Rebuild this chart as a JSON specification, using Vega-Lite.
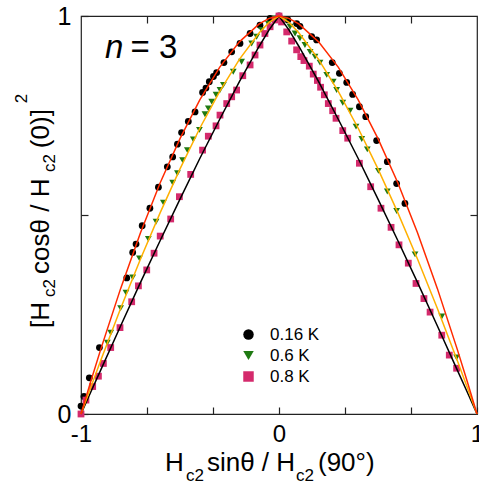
{
  "$schema": "https://vega.github.io/schema/vega-lite/v6.json",
  "width": 396,
  "height": 398,
  "autosize": {"type": "none"},
  "padding": {"left": 81, "top": 16, "right": 2, "bottom": 77},
  "config": {
    "view": {"stroke": "#222222", "strokeWidth": 1.2},
    "font": "Liberation Sans",
    "axis": {"domain": false, "grid": false, "tickColor": "#222222", "tickWidth": 1.2, "tickSize": -7, "labelFont": "Liberation Sans", "labelFontSize": 25, "labelColor": "#000000", "title": null}
  },
  "datasets": {
    "pts": [
      {"T": "0.16 K", "x": -1.0, "y": 0.02}, {"T": "0.16 K", "x": -0.985, "y": 0.044}, {"T": "0.16 K", "x": -0.958, "y": 0.091}, {"T": "0.16 K", "x": -0.907, "y": 0.167}, {"T": "0.16 K", "x": -0.769, "y": 0.342}, {"T": "0.16 K", "x": -0.739, "y": 0.406}, {"T": "0.16 K", "x": -0.722, "y": 0.427}, {"T": "0.16 K", "x": -0.691, "y": 0.473}, {"T": "0.16 K", "x": -0.652, "y": 0.517}, {"T": "0.16 K", "x": -0.609, "y": 0.57}, {"T": "0.16 K", "x": -0.564, "y": 0.621}, {"T": "0.16 K", "x": -0.537, "y": 0.646}, {"T": "0.16 K", "x": -0.513, "y": 0.678}, {"T": "0.16 K", "x": -0.492, "y": 0.707}, {"T": "0.16 K", "x": -0.458, "y": 0.735}, {"T": "0.16 K", "x": -0.424, "y": 0.759}, {"T": "0.16 K", "x": -0.386, "y": 0.808}, {"T": "0.16 K", "x": -0.369, "y": 0.819}, {"T": "0.16 K", "x": -0.352, "y": 0.835}, {"T": "0.16 K", "x": -0.331, "y": 0.848}, {"T": "0.16 K", "x": -0.315, "y": 0.858}, {"T": "0.16 K", "x": -0.278, "y": 0.883}, {"T": "0.16 K", "x": -0.239, "y": 0.91}, {"T": "0.16 K", "x": -0.197, "y": 0.931}, {"T": "0.16 K", "x": -0.146, "y": 0.956}, {"T": "0.16 K", "x": -0.096, "y": 0.977}, {"T": "0.16 K", "x": -0.045, "y": 0.994}, {"T": "0.16 K", "x": 0.0, "y": 1.0}, {"T": "0.16 K", "x": 0.045, "y": 0.99}, {"T": "0.16 K", "x": 0.089, "y": 0.981}, {"T": "0.16 K", "x": 0.106, "y": 0.974}, {"T": "0.16 K", "x": 0.165, "y": 0.948}, {"T": "0.16 K", "x": 0.19, "y": 0.94}, {"T": "0.16 K", "x": 0.269, "y": 0.883}, {"T": "0.16 K", "x": 0.305, "y": 0.856}, {"T": "0.16 K", "x": 0.342, "y": 0.833}, {"T": "0.16 K", "x": 0.372, "y": 0.803}, {"T": "0.16 K", "x": 0.406, "y": 0.772}, {"T": "0.16 K", "x": 0.438, "y": 0.747}, {"T": "0.16 K", "x": 0.493, "y": 0.687}, {"T": "0.16 K", "x": 0.547, "y": 0.634}, {"T": "0.16 K", "x": 0.594, "y": 0.579}, {"T": "0.16 K", "x": 0.636, "y": 0.529},
      {"T": "0.6 K", "x": -0.867, "y": 0.179}, {"T": "0.6 K", "x": -0.85, "y": 0.204}, {"T": "0.6 K", "x": -0.8, "y": 0.266}, {"T": "0.6 K", "x": -0.773, "y": 0.305}, {"T": "0.6 K", "x": -0.739, "y": 0.343}, {"T": "0.6 K", "x": -0.705, "y": 0.391}, {"T": "0.6 K", "x": -0.66, "y": 0.44}, {"T": "0.6 K", "x": -0.621, "y": 0.483}, {"T": "0.6 K", "x": -0.584, "y": 0.531}, {"T": "0.6 K", "x": -0.537, "y": 0.581}, {"T": "0.6 K", "x": -0.513, "y": 0.605}, {"T": "0.6 K", "x": -0.487, "y": 0.638}, {"T": "0.6 K", "x": -0.463, "y": 0.663}, {"T": "0.6 K", "x": -0.433, "y": 0.69}, {"T": "0.6 K", "x": -0.402, "y": 0.714}, {"T": "0.6 K", "x": -0.374, "y": 0.753}, {"T": "0.6 K", "x": -0.357, "y": 0.768}, {"T": "0.6 K", "x": -0.34, "y": 0.785}, {"T": "0.6 K", "x": -0.318, "y": 0.802}, {"T": "0.6 K", "x": -0.298, "y": 0.814}, {"T": "0.6 K", "x": -0.281, "y": 0.827}, {"T": "0.6 K", "x": -0.231, "y": 0.86}, {"T": "0.6 K", "x": -0.189, "y": 0.885}, {"T": "0.6 K", "x": -0.138, "y": 0.931}, {"T": "0.6 K", "x": -0.113, "y": 0.948}, {"T": "0.6 K", "x": -0.088, "y": 0.965}, {"T": "0.6 K", "x": -0.054, "y": 0.981}, {"T": "0.6 K", "x": -0.02, "y": 0.994}, {"T": "0.6 K", "x": 0.03, "y": 0.99}, {"T": "0.6 K", "x": 0.056, "y": 0.973}, {"T": "0.6 K", "x": 0.081, "y": 0.956}, {"T": "0.6 K", "x": 0.106, "y": 0.944}, {"T": "0.6 K", "x": 0.131, "y": 0.927}, {"T": "0.6 K", "x": 0.157, "y": 0.91}, {"T": "0.6 K", "x": 0.182, "y": 0.898}, {"T": "0.6 K", "x": 0.207, "y": 0.883}, {"T": "0.6 K", "x": 0.241, "y": 0.852}, {"T": "0.6 K", "x": 0.274, "y": 0.835}, {"T": "0.6 K", "x": 0.291, "y": 0.814}, {"T": "0.6 K", "x": 0.322, "y": 0.782}, {"T": "0.6 K", "x": 0.359, "y": 0.762}, {"T": "0.6 K", "x": 0.389, "y": 0.722}, {"T": "0.6 K", "x": 0.418, "y": 0.691}, {"T": "0.6 K", "x": 0.446, "y": 0.665}, {"T": "0.6 K", "x": 0.502, "y": 0.611}, {"T": "0.6 K", "x": 0.547, "y": 0.559}, {"T": "0.6 K", "x": 0.594, "y": 0.51}, {"T": "0.6 K", "x": 0.687, "y": 0.401}, {"T": "0.6 K", "x": 0.822, "y": 0.245}, {"T": "0.6 K", "x": 0.897, "y": 0.142},
      {"T": "0.8 K", "x": -1.0, "y": 0.0}, {"T": "0.8 K", "x": -0.975, "y": 0.035}, {"T": "0.8 K", "x": -0.941, "y": 0.069}, {"T": "0.8 K", "x": -0.912, "y": 0.095}, {"T": "0.8 K", "x": -0.887, "y": 0.127}, {"T": "0.8 K", "x": -0.85, "y": 0.167}, {"T": "0.8 K", "x": -0.803, "y": 0.217}, {"T": "0.8 K", "x": -0.744, "y": 0.282}, {"T": "0.8 K", "x": -0.71, "y": 0.322}, {"T": "0.8 K", "x": -0.668, "y": 0.362}, {"T": "0.8 K", "x": -0.631, "y": 0.404}, {"T": "0.8 K", "x": -0.6, "y": 0.447}, {"T": "0.8 K", "x": -0.547, "y": 0.49}, {"T": "0.8 K", "x": -0.503, "y": 0.546}, {"T": "0.8 K", "x": -0.446, "y": 0.602}, {"T": "0.8 K", "x": -0.386, "y": 0.663}, {"T": "0.8 K", "x": -0.357, "y": 0.698}, {"T": "0.8 K", "x": -0.318, "y": 0.724}, {"T": "0.8 K", "x": -0.298, "y": 0.751}, {"T": "0.8 K", "x": -0.264, "y": 0.78}, {"T": "0.8 K", "x": -0.239, "y": 0.797}, {"T": "0.8 K", "x": -0.214, "y": 0.814}, {"T": "0.8 K", "x": -0.183, "y": 0.85}, {"T": "0.8 K", "x": -0.146, "y": 0.877}, {"T": "0.8 K", "x": -0.121, "y": 0.902}, {"T": "0.8 K", "x": -0.096, "y": 0.927}, {"T": "0.8 K", "x": -0.071, "y": 0.956}, {"T": "0.8 K", "x": -0.045, "y": 0.973}, {"T": "0.8 K", "x": -0.02, "y": 0.99}, {"T": "0.8 K", "x": 0.0, "y": 1.0}, {"T": "0.8 K", "x": 0.013, "y": 0.985}, {"T": "0.8 K", "x": 0.039, "y": 0.96}, {"T": "0.8 K", "x": 0.064, "y": 0.937}, {"T": "0.8 K", "x": 0.089, "y": 0.915}, {"T": "0.8 K", "x": 0.11, "y": 0.898}, {"T": "0.8 K", "x": 0.126, "y": 0.888}, {"T": "0.8 K", "x": 0.153, "y": 0.874}, {"T": "0.8 K", "x": 0.173, "y": 0.854}, {"T": "0.8 K", "x": 0.194, "y": 0.838}, {"T": "0.8 K", "x": 0.21, "y": 0.821}, {"T": "0.8 K", "x": 0.229, "y": 0.802}, {"T": "0.8 K", "x": 0.249, "y": 0.78}, {"T": "0.8 K", "x": 0.271, "y": 0.762}, {"T": "0.8 K", "x": 0.288, "y": 0.743}, {"T": "0.8 K", "x": 0.322, "y": 0.712}, {"T": "0.8 K", "x": 0.347, "y": 0.693}, {"T": "0.8 K", "x": 0.406, "y": 0.63}, {"T": "0.8 K", "x": 0.463, "y": 0.571}, {"T": "0.8 K", "x": 0.515, "y": 0.517}, {"T": "0.8 K", "x": 0.566, "y": 0.469}, {"T": "0.8 K", "x": 0.606, "y": 0.425}, {"T": "0.8 K", "x": 0.653, "y": 0.379}, {"T": "0.8 K", "x": 0.692, "y": 0.328}, {"T": "0.8 K", "x": 0.732, "y": 0.29}, {"T": "0.8 K", "x": 0.763, "y": 0.256}, {"T": "0.8 K", "x": 0.822, "y": 0.198}, {"T": "0.8 K", "x": 0.86, "y": 0.148}, {"T": "0.8 K", "x": 0.897, "y": 0.115}
    ],
    "fits": [
      {"fit": "a", "x": -1.0, "y": 0.0}, {"fit": "a", "x": -0.95, "y": 0.083}, {"fit": "a", "x": -0.9, "y": 0.163}, {"fit": "a", "x": -0.8, "y": 0.315}, {"fit": "a", "x": -0.7, "y": 0.455}, {"fit": "a", "x": -0.6, "y": 0.581}, {"fit": "a", "x": -0.5, "y": 0.692}, {"fit": "a", "x": -0.4, "y": 0.789}, {"fit": "a", "x": -0.3, "y": 0.871}, {"fit": "a", "x": -0.2, "y": 0.935}, {"fit": "a", "x": -0.1, "y": 0.98}, {"fit": "a", "x": -0.05, "y": 0.994}, {"fit": "a", "x": 0.0, "y": 1.0}, {"fit": "a", "x": 0.05, "y": 0.994}, {"fit": "a", "x": 0.1, "y": 0.98}, {"fit": "a", "x": 0.2, "y": 0.935}, {"fit": "a", "x": 0.3, "y": 0.871}, {"fit": "a", "x": 0.4, "y": 0.789}, {"fit": "a", "x": 0.5, "y": 0.692}, {"fit": "a", "x": 0.6, "y": 0.581}, {"fit": "a", "x": 0.7, "y": 0.455}, {"fit": "a", "x": 0.8, "y": 0.315}, {"fit": "a", "x": 0.9, "y": 0.163}, {"fit": "a", "x": 0.95, "y": 0.083}, {"fit": "a", "x": 1.0, "y": 0.0},
      {"fit": "b", "x": -1.0, "y": 0.0}, {"fit": "b", "x": -0.95, "y": 0.068}, {"fit": "b", "x": -0.9, "y": 0.135}, {"fit": "b", "x": -0.8, "y": 0.265}, {"fit": "b", "x": -0.7, "y": 0.389}, {"fit": "b", "x": -0.6, "y": 0.506}, {"fit": "b", "x": -0.5, "y": 0.616}, {"fit": "b", "x": -0.4, "y": 0.718}, {"fit": "b", "x": -0.3, "y": 0.81}, {"fit": "b", "x": -0.2, "y": 0.891}, {"fit": "b", "x": -0.1, "y": 0.958}, {"fit": "b", "x": -0.05, "y": 0.984}, {"fit": "b", "x": 0.0, "y": 1.0}, {"fit": "b", "x": 0.05, "y": 0.984}, {"fit": "b", "x": 0.1, "y": 0.958}, {"fit": "b", "x": 0.2, "y": 0.891}, {"fit": "b", "x": 0.3, "y": 0.81}, {"fit": "b", "x": 0.4, "y": 0.718}, {"fit": "b", "x": 0.5, "y": 0.616}, {"fit": "b", "x": 0.6, "y": 0.506}, {"fit": "b", "x": 0.7, "y": 0.389}, {"fit": "b", "x": 0.8, "y": 0.265}, {"fit": "b", "x": 0.9, "y": 0.135}, {"fit": "b", "x": 0.95, "y": 0.068}, {"fit": "b", "x": 1.0, "y": 0.0},
      {"fit": "c", "x": -1.0, "y": 0.0}, {"fit": "c", "x": -0.95, "y": 0.056}, {"fit": "c", "x": -0.9, "y": 0.111}, {"fit": "c", "x": -0.8, "y": 0.221}, {"fit": "c", "x": -0.7, "y": 0.33}, {"fit": "c", "x": -0.6, "y": 0.436}, {"fit": "c", "x": -0.5, "y": 0.54}, {"fit": "c", "x": -0.4, "y": 0.642}, {"fit": "c", "x": -0.3, "y": 0.74}, {"fit": "c", "x": -0.2, "y": 0.835}, {"fit": "c", "x": -0.1, "y": 0.924}, {"fit": "c", "x": -0.05, "y": 0.965}, {"fit": "c", "x": 0.0, "y": 1.0}, {"fit": "c", "x": 0.05, "y": 0.965}, {"fit": "c", "x": 0.1, "y": 0.924}, {"fit": "c", "x": 0.2, "y": 0.835}, {"fit": "c", "x": 0.3, "y": 0.74}, {"fit": "c", "x": 0.4, "y": 0.642}, {"fit": "c", "x": 0.5, "y": 0.54}, {"fit": "c", "x": 0.6, "y": 0.436}, {"fit": "c", "x": 0.7, "y": 0.33}, {"fit": "c", "x": 0.8, "y": 0.221}, {"fit": "c", "x": 0.9, "y": 0.111}, {"fit": "c", "x": 0.95, "y": 0.056}, {"fit": "c", "x": 1.0, "y": 0.0}
    ]
  },
  "layer": [
    {
      "data": {"name": "pts"},
      "mark": {"type": "point", "filled": true, "opacity": 1, "size": 46},
      "encoding": {
        "x": {"field": "x", "type": "quantitative", "scale": {"domain": [-1, 1], "nice": false, "zero": false},
              "axis": {"orient": "bottom", "values": [-1, -0.6667, -0.3333, 0, 0.3333, 0.6667, 1], "labelExpr": "datum.value == -1 ? '-1' : (datum.value == 0 ? '0' : (datum.value == 1 ? '1' : ''))", "labelPadding": 15, "labelFontSize": 24, "labelFlush": false, "labelOverlap": false}},
        "y": {"field": "y", "type": "quantitative", "scale": {"domain": [0, 1], "nice": false, "zero": false},
              "axis": {"orient": "left", "values": [0, 0.5, 1], "labelExpr": "datum.value == 0 ? '0' : (datum.value == 1 ? '1' : '')", "labelPadding": 17, "labelFlush": false, "labelOverlap": false}},
        "color": {"field": "T", "type": "nominal", "scale": {"domain": ["0.16 K", "0.6 K", "0.8 K"], "range": ["#000000", "#1f7a12", "#d42a6c"]},
                  "legend": {"orient": "none", "legendX": 159, "legendY": 310, "title": null, "labelFontSize": 17, "labelFont": "Liberation Sans", "labelColor": "#000000", "symbolSize": 110, "labelOffset": 13, "rowPadding": 3, "padding": 0, "symbolStrokeWidth": 0}},
        "shape": {"field": "T", "type": "nominal", "scale": {"domain": ["0.16 K", "0.6 K", "0.8 K"], "range": ["circle", "triangle-down", "square"]},
                  "legend": {"orient": "none", "legendX": 159, "legendY": 310, "title": null, "labelFontSize": 17, "labelFont": "Liberation Sans", "labelColor": "#000000", "symbolSize": 110, "labelOffset": 13, "rowPadding": 3, "padding": 0, "symbolStrokeWidth": 0}}
      }
    },
    {
      "data": {"name": "fits"},
      "transform": [{"filter": "datum.fit == 'c'"}],
      "mark": {"type": "line", "color": "#000000", "strokeWidth": 1.5},
      "encoding": {
        "x": {"field": "x", "type": "quantitative", "axis": {"orient": "top", "values": [-0.6667, -0.3333, 0, 0.3333, 0.6667], "labels": false}},
        "y": {"field": "y", "type": "quantitative", "axis": {"orient": "right", "values": [0.5], "labels": false}}
      }
    },
    {
      "data": {"name": "fits"},
      "transform": [{"filter": "datum.fit == 'b'"}],
      "mark": {"type": "line", "color": "#ffb000", "strokeWidth": 1.5},
      "encoding": {
        "x": {"field": "x", "type": "quantitative", "axis": null},
        "y": {"field": "y", "type": "quantitative", "axis": null}
      }
    },
    {
      "data": {"name": "fits"},
      "transform": [{"filter": "datum.fit == 'a'"}],
      "mark": {"type": "line", "color": "#ff2a00", "strokeWidth": 1.5},
      "encoding": {
        "x": {"field": "x", "type": "quantitative", "axis": null},
        "y": {"field": "y", "type": "quantitative", "axis": null}
      }
    },
    {
      "data": {"values": [{"x": -0.879, "y": 0.894, "t": "n"}]},
      "mark": {"type": "text", "align": "left", "baseline": "alphabetic", "fontSize": 33, "fontStyle": "italic", "font": "Liberation Sans", "color": "#000000"},
      "encoding": {"x": {"field": "x", "type": "quantitative", "axis": null}, "y": {"field": "y", "type": "quantitative", "axis": null}, "text": {"field": "t"}}
    },
    {
      "data": {"values": [{"x": -0.75, "y": 0.894, "t": "= 3"}]},
      "mark": {"type": "text", "align": "left", "baseline": "alphabetic", "fontSize": 33, "font": "Liberation Sans", "color": "#000000"},
      "encoding": {"x": {"field": "x", "type": "quantitative", "axis": null}, "y": {"field": "y", "type": "quantitative", "axis": null}, "text": {"field": "t"}}
    },
    {
      "data": {"values": [{"x": -0.576, "y": -0.1432, "t": "H"}, {"x": -0.364, "y": -0.1432, "t": "sinθ / H"}, {"x": 0.197, "y": -0.1432, "t": "(90°)"}]},
      "mark": {"type": "text", "align": "left", "baseline": "alphabetic", "fontSize": 26, "font": "Liberation Sans", "color": "#000000"},
      "encoding": {"x": {"field": "x", "type": "quantitative", "axis": null}, "y": {"field": "y", "type": "quantitative", "axis": null}, "text": {"field": "t"}}
    },
    {
      "data": {"values": [{"x": -0.47, "y": -0.168, "t": "c2"}, {"x": 0.086, "y": -0.168, "t": "c2"}]},
      "mark": {"type": "text", "align": "left", "baseline": "alphabetic", "fontSize": 17, "font": "Liberation Sans", "color": "#000000"},
      "encoding": {"x": {"field": "x", "type": "quantitative", "axis": null}, "y": {"field": "y", "type": "quantitative", "axis": null}, "text": {"field": "t"}}
    },
    {
      "data": {"values": [{"x": -1.162, "y": 0.216, "t": "[H"}, {"x": -1.162, "y": 0.352, "t": "cosθ / H"}, {"x": -1.162, "y": 0.668, "t": "(0)]"}]},
      "mark": {"type": "text", "align": "left", "baseline": "alphabetic", "angle": 270, "fontSize": 26, "font": "Liberation Sans", "color": "#000000"},
      "encoding": {"x": {"field": "x", "type": "quantitative", "axis": null}, "y": {"field": "y", "type": "quantitative", "axis": null}, "text": {"field": "t"}}
    },
    {
      "data": {"values": [{"x": -1.131, "y": 0.294, "t": "c2"}, {"x": -1.131, "y": 0.608, "t": "c2"}, {"x": -1.273, "y": 0.781, "t": "2"}]},
      "mark": {"type": "text", "align": "left", "baseline": "alphabetic", "angle": 270, "fontSize": 17, "font": "Liberation Sans", "color": "#000000"},
      "encoding": {"x": {"field": "x", "type": "quantitative", "axis": null}, "y": {"field": "y", "type": "quantitative", "axis": null}, "text": {"field": "t"}}
    }
  ],
  "resolve": {"axis": {"x": "independent", "y": "independent"}}
}
